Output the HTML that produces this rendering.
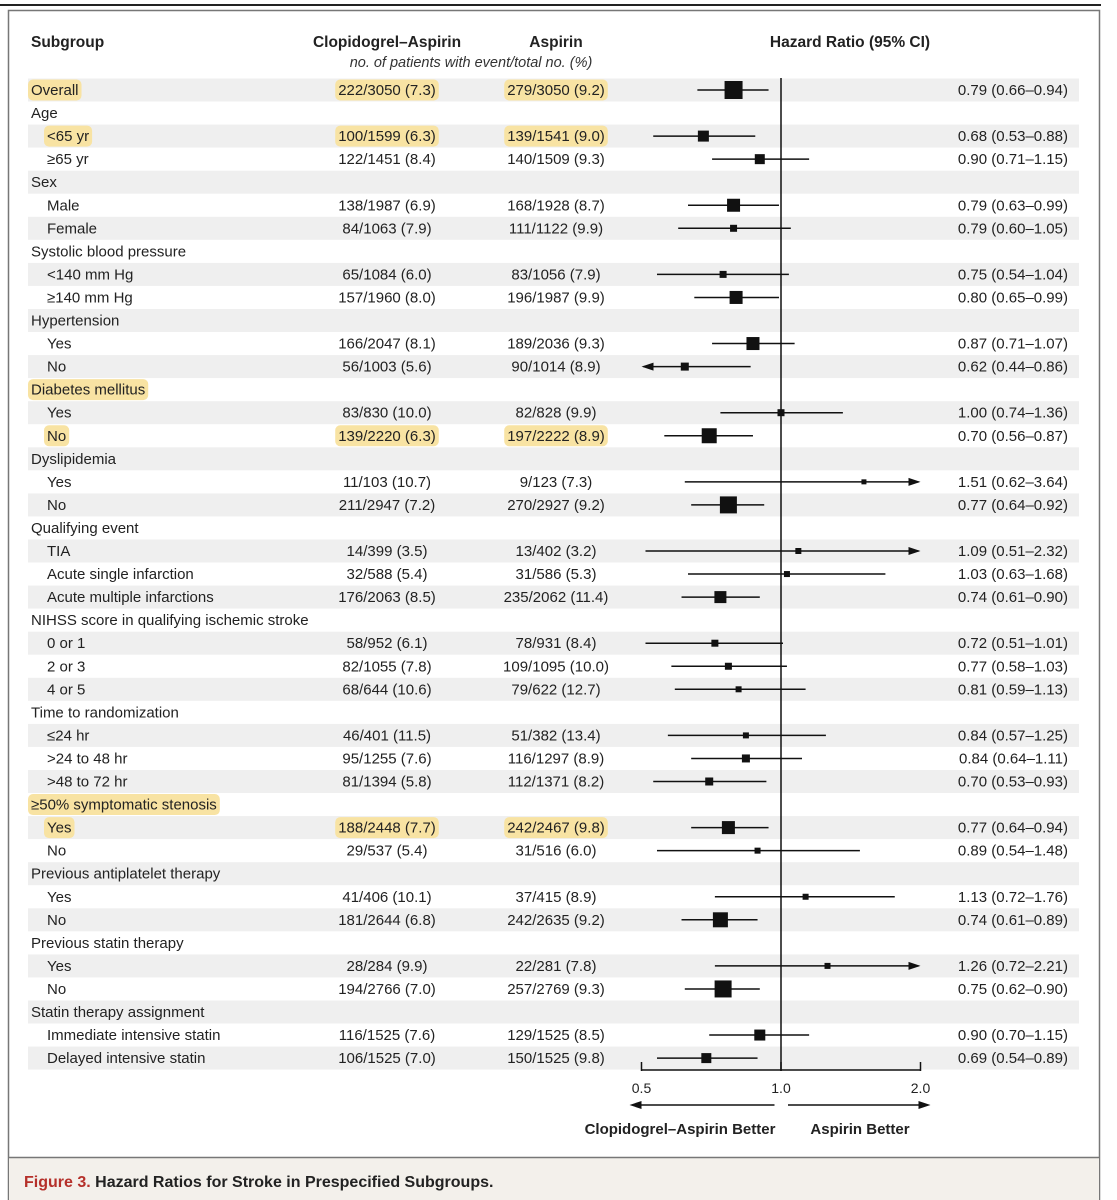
<!DOCTYPE html>
<html><head><meta charset="utf-8"><style>
body{margin:0;background:#fff;}
svg{display:block;font-family:"Liberation Sans",sans-serif;}
</style></head><body>
<svg width="1117" height="1200" viewBox="0 0 1117 1200" xmlns="http://www.w3.org/2000/svg">
<rect x="0" y="0" width="1117" height="1200" fill="#fff"/>
<line x1="0" y1="5" x2="1101" y2="5" stroke="#222" stroke-width="2"/>
<rect x="8.5" y="10.5" width="1091" height="1189" fill="none" stroke="#777" stroke-width="1.5"/>
<rect x="9" y="1158" width="1090" height="42" fill="#f3f0eb"/>
<line x1="9" y1="1157.5" x2="1099" y2="1157.5" stroke="#777" stroke-width="1.5"/>
<text x="24" y="1187" font-size="16" font-weight="bold" fill="#222"><tspan fill="#b5302a">Figure 3.</tspan> Hazard Ratios for Stroke in Prespecified Subgroups.</text>
<g font-size="15.5" font-weight="bold" fill="#222">
<text x="31" y="47">Subgroup</text>
<text x="387" y="47" text-anchor="middle">Clopidogrel–Aspirin</text>
<text x="556" y="47" text-anchor="middle">Aspirin</text>
<text x="850" y="47" text-anchor="middle">Hazard Ratio (95% CI)</text>
</g>
<text x="471" y="67" text-anchor="middle" font-size="14.5" font-style="italic" fill="#333">no. of patients with event/total no. (%)</text>
<g id="stripes"></g>
<g id="hls"></g>
<g id="rows"></g>
<g id="plot"></g>
<g id="axis"></g>
</svg>
<script>
const labels=["Overall","Age","<65 yr","≥65 yr","Sex","Male","Female","Systolic blood pressure","<140 mm Hg","≥140 mm Hg","Hypertension","Yes","No","Diabetes mellitus","Yes","No","Dyslipidemia","Yes","No","Qualifying event","TIA","Acute single infarction","Acute multiple infarctions","NIHSS score in qualifying ischemic stroke","0 or 1","2 or 3","4 or 5","Time to randomization","≤24 hr",">24 to 48 hr",">48 to 72 hr","≥50% symptomatic stenosis","Yes","No","Previous antiplatelet therapy","Yes","No","Previous statin therapy","Yes","No","Statin therapy assignment","Immediate intensive statin","Delayed intensive statin"];
const indent=[0,0,1,1,0,1,1,0,1,1,0,1,1,0,1,1,0,1,1,0,1,1,1,0,1,1,1,0,1,1,1,0,1,1,0,1,1,0,1,1,0,1,1];
const clopCol=["222/3050 (7.3)","","100/1599 (6.3)","122/1451 (8.4)","","138/1987 (6.9)","84/1063 (7.9)","","65/1084 (6.0)","157/1960 (8.0)","","166/2047 (8.1)","56/1003 (5.6)","","83/830 (10.0)","139/2220 (6.3)","","11/103 (10.7)","211/2947 (7.2)","","14/399 (3.5)","32/588 (5.4)","176/2063 (8.5)","","58/952 (6.1)","82/1055 (7.8)","68/644 (10.6)","","46/401 (11.5)","95/1255 (7.6)","81/1394 (5.8)","","188/2448 (7.7)","29/537 (5.4)","","41/406 (10.1)","181/2644 (6.8)","","28/284 (9.9)","194/2766 (7.0)","","116/1525 (7.6)","106/1525 (7.0)"];
const aspCol=["279/3050 (9.2)","","139/1541 (9.0)","140/1509 (9.3)","","168/1928 (8.7)","111/1122 (9.9)","","83/1056 (7.9)","196/1987 (9.9)","","189/2036 (9.3)","90/1014 (8.9)","","82/828 (9.9)","197/2222 (8.9)","","9/123 (7.3)","270/2927 (9.2)","","13/402 (3.2)","31/586 (5.3)","235/2062 (11.4)","","78/931 (8.4)","109/1095 (10.0)","79/622 (12.7)","","51/382 (13.4)","116/1297 (8.9)","112/1371 (8.2)","","242/2467 (9.8)","31/516 (6.0)","","37/415 (8.9)","242/2635 (9.2)","","22/281 (7.8)","257/2769 (9.3)","","129/1525 (8.5)","150/1525 (9.8)"];
const hr=[0.79,null,0.68,0.90,null,0.79,0.79,null,0.75,0.80,null,0.87,0.62,null,1.00,0.70,null,1.51,0.77,null,1.09,1.03,0.74,null,0.72,0.77,0.81,null,0.84,0.84,0.70,null,0.77,0.89,null,1.13,0.74,null,1.26,0.75,null,0.90,0.69];
const lo=[0.66,null,0.53,0.71,null,0.63,0.60,null,0.54,0.65,null,0.71,0.44,null,0.74,0.56,null,0.62,0.64,null,0.51,0.63,0.61,null,0.51,0.58,0.59,null,0.57,0.64,0.53,null,0.64,0.54,null,0.72,0.61,null,0.72,0.62,null,0.70,0.54];
const hi=[0.94,null,0.88,1.15,null,0.99,1.05,null,1.04,0.99,null,1.07,0.86,null,1.36,0.87,null,3.64,0.92,null,2.32,1.68,0.90,null,1.01,1.03,1.13,null,1.25,1.11,0.93,null,0.94,1.48,null,1.76,0.89,null,2.21,0.90,null,1.15,0.89];
const boxSize=[18,0,11,10,0,13,7,0,7,13,0,13,8,0,7,15,0,5,17,0,6,6,12,0,7,7,6,0,6,8,8,0,13,6,0,6,15,0,6,17,0,11,10];
const highlightRow=[1,0,1,0,0,0,0,0,0,0,0,0,0,2,0,1,0,0,0,0,0,0,0,0,0,0,0,0,0,0,0,2,1,0,0,0,0,0,0,0,0,0,0];
const ticks=[0.5,1.0,2.0];
const tickLabels=["0.5","1.0","2.0"];

const NS="http://www.w3.org/2000/svg";
const rowY=i=>90+i*23.05;
const xs=v=>781+Math.log2(v)*139.5;
const XMIN=xs(0.5), XMAX=xs(2.0);
function mk(tag,attrs,parent,text){const e=document.createElementNS(NS,tag);for(const k in attrs)e.setAttribute(k,attrs[k]);if(text!==undefined)e.textContent=text;parent.appendChild(e);return e;}
const stripes=document.getElementById('stripes'),hls=document.getElementById('hls'),rows=document.getElementById('rows'),plot=document.getElementById('plot'),axis=document.getElementById('axis');
function fmt(v){return v.toFixed(2);}
function hlText(t,y){const b=t.getBBox();const r=mk('rect',{x:b.x-3,y:y-10.5,width:b.width+6,height:21,rx:5,fill:'#f8e3a3'},hls);

}
labels.forEach((lab,i)=>{
 const y=rowY(i);
 if(i%2===0){const s=mk('rect',{x:28,y:y-11.5,width:1051,height:23,fill:'#efefef'},stripes);
 
 }
 const lx=indent[i]?47:31;
 const t=mk('text',{x:lx,y:y+5,'font-size':'15',fill:'#222'},rows,lab);
 
 
 if(highlightRow[i])hlText(t,y);
 if(clopCol[i]){
  const a=mk('text',{x:387,y:y+5,'font-size':'15','text-anchor':'middle',fill:'#222'},rows,clopCol[i]);
  
  
  const b=mk('text',{x:556,y:y+5,'font-size':'15','text-anchor':'middle',fill:'#222'},rows,aspCol[i]);
  
  
  if(highlightRow[i]===1){hlText(a,y);hlText(b,y);}
 }
 if(hr[i]!==null){
  const c=mk('text',{x:1068,y:y+5,'font-size':'15','text-anchor':'end',fill:'#222'},rows,fmt(hr[i])+' ('+fmt(lo[i])+'–'+fmt(hi[i])+')');
  
  
  const x1=Math.max(xs(lo[i]),XMIN+2), x2=Math.min(xs(hi[i]),XMAX-2);
  const l=mk('line',{x1:x1,y1:y,x2:x2,y2:y,stroke:'#111','stroke-width':1.5},plot);
  
  
  if(lo[i]<0.5){const p=mk('polygon',{points:`${XMIN},${y} ${XMIN+12},${y-4} ${XMIN+12},${y+4}`,fill:'#111'},plot);
   
   }
  if(hi[i]>2.0){const p=mk('polygon',{points:`${XMAX},${y} ${XMAX-12},${y-4} ${XMAX-12},${y+4}`,fill:'#111'},plot);
   
   }
  const s=boxSize[i];
  const r=mk('rect',{x:xs(hr[i])-s/2,y:y-s/2,width:s,height:s,fill:'#111'},plot);
  
  
 }
});
const ref=mk('line',{x1:781,y1:78,x2:781,y2:1071,stroke:'#111','stroke-width':1.5},axis);


const base=mk('line',{x1:XMIN,y1:1070,x2:XMAX,y2:1070,stroke:'#111','stroke-width':1.5},axis);


ticks.forEach((v,k)=>{
 const tk=mk('line',{x1:xs(v),y1:1062,x2:xs(v),y2:1071,stroke:'#111','stroke-width':1.5},axis);
 
 
 const tl=mk('text',{x:xs(v),y:1093,'font-size':'14','text-anchor':'middle',fill:'#222'},axis,tickLabels[k]);
 
 
});
const al=mk('line',{x1:XMIN-2,y1:1105,x2:XMIN+133,y2:1105,stroke:'#111','stroke-width':1.5},axis);


mk('polygon',{points:`${XMIN-12},1105 ${XMIN},1101 ${XMIN},1109`,fill:'#111'},axis);
const ar=mk('line',{x1:788,y1:1105,x2:XMAX+2,y2:1105,stroke:'#111','stroke-width':1.5},axis);


mk('polygon',{points:`${XMAX+10},1105 ${XMAX-2},1101 ${XMAX-2},1109`,fill:'#111'},axis);
const fl=mk('text',{x:680,y:1134,'font-size':'15','font-weight':'bold','text-anchor':'middle',fill:'#222'},axis,'Clopidogrel–Aspirin Better');


const fr=mk('text',{x:860,y:1134,'font-size':'15','font-weight':'bold','text-anchor':'middle',fill:'#222'},axis,'Aspirin Better');


</script>
</body></html>
